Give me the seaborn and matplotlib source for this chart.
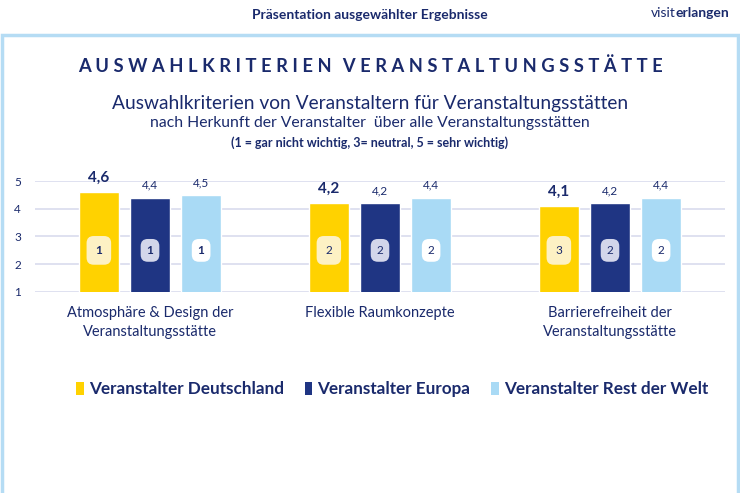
import matplotlib
matplotlib.use("Agg")
import matplotlib.pyplot as plt
import seaborn as sns
import pandas as pd
from matplotlib.patches import Rectangle, Patch

categories = ["Atmosphäre & Design der\nVeranstaltungsstätte",
              "Flexible Raumkonzepte",
              "Barrierefreiheit der\nVeranstaltungsstätte"]
series = ["Veranstalter Deutschland", "Veranstalter Europa", "Veranstalter Rest der Welt"]
values_de = [4.6, 4.2, 4.1]
values_eu = [4.4, 4.2, 4.2]
values_rw = [4.5, 4.4, 4.4]
ranks_de = [1, 2, 3]
ranks_eu = [1, 2, 2]
ranks_rw = [1, 2, 2]
yticks = [1, 2, 3, 4, 5]

colors = ["#FFD200", "#1F3583", "#A9DAF5"]
badge_colors = ["#FDF1C4", "#D3D6EA", "#FFFFFF"]
navy = "#1A2A6C"

rows = []
for s, vals, rks in zip(series, [values_de, values_eu, values_rw], [ranks_de, ranks_eu, ranks_rw]):
    for c, v, r in zip(categories, vals, rks):
        rows.append({"Kategorie": c, "Serie": s, "Wert": v, "Rang": r})
df = pd.DataFrame(rows)

sns.set_theme(style="white")
plt.rcParams['font.family'] = ['Lato', 'DejaVu Sans']

fig = plt.figure(figsize=(7.4, 4.93), dpi=100)
ax = fig.add_axes([35/740, 1-292/493, 690/740, 111/493])

sns.barplot(data=df, x="Kategorie", y="Wert", hue="Serie", order=categories,
            hue_order=series, palette=colors, width=0.667, gap=0.217,
            saturation=1, ax=ax, legend=False, zorder=3)

ax.set_ylim(1, 5)
ax.set_xlim(-0.5, 2.5)
ax.set_yticks(yticks)
ax.set_yticklabels([str(t) for t in yticks], color=navy, fontsize=8.5)
ax.grid(axis="y", color="#D9DCEE", linewidth=1.2, zorder=0)
ax.set_axisbelow(True)
for sp in ax.spines.values():
    sp.set_visible(False)
ax.tick_params(axis="y", length=0, pad=10)
ax.tick_params(axis="x", length=0, pad=10)
ax.set_xticks(range(len(categories)))
ax.set_xticklabels(categories, color=navy, fontsize=10.5, linespacing=1.5)
ax.set_xlabel("")
ax.set_ylabel("")

# annotate bars
for si, (cont, s) in enumerate(zip(ax.containers, series)):
    sub = df[df["Serie"] == s].set_index("Kategorie").loc[categories]
    for bar, v, r in zip(cont, sub["Wert"], sub["Rang"]):
        cx = bar.get_x() + bar.get_width() / 2
        lab = f"{v:.1f}".replace(".", ",")
        if si == 0:
            ax.annotate(lab, (cx, v), xytext=(0, 5), textcoords="offset points",
                        ha="center", va="bottom", fontsize=11, fontweight="bold",
                        color=navy, annotation_clip=False)
        else:
            ax.annotate(lab, (cx, v), xytext=(0, 5), textcoords="offset points",
                        ha="center", va="bottom", fontsize=8.5,
                        color=navy, annotation_clip=False)
        pad = 0.75 if si == 0 else 0.5
        ax.text(cx, 2.5, str(r), ha="center", va="center", fontsize=8.5,
                fontweight="bold" if r == 1 else "normal",
                color=navy, zorder=5,
                bbox=dict(boxstyle=f"round,pad={pad},rounding_size=0.6",
                          fc=badge_colors[si], ec="none"))

# titles
ts = "\u2009"
title = "AUSWAHLKRITERIEN VERANSTALTUNGSSTÄTTE"
spaced = (ts * 2).join(title).replace(ts * 2 + " " + ts * 2, ts * 5)
fig.text(0.5, 1-66/493, spaced,
         ha="center", va="center", fontsize=13.2, fontweight="bold", color=navy)
fig.text(0.5, 1-103/493, "Auswahlkriterien von Veranstaltern für Veranstaltungsstätten",
         ha="center", va="center", fontsize=13.8, color=navy)
fig.text(0.5, 1-123/493, "nach Herkunft der Veranstalter  über alle Veranstaltungsstätten",
         ha="center", va="center", fontsize=11.3, color=navy)
fig.text(0.5, 1-143/493, "(1 = gar nicht wichtig, 3= neutral, 5 = sehr wichtig)",
         ha="center", va="center", fontsize=9, fontweight="bold", color=navy)
fig.text(0.5, 1-15/493, "Präsentation ausgewählter Ergebnisse",
         ha="center", va="center", fontsize=10, fontweight="bold", color=navy)
fig.text(676/740, 1-13/493, "visit", ha="right", va="center", fontsize=10, color=navy)
fig.text(676/740, 1-13/493, "erlangen", ha="left", va="center", fontsize=10,
         fontweight="bold", color=navy)

# frame
fig.add_artist(Rectangle((1.5/740, -0.05), 736/740, 1.05 - 35/493, fill=False,
                         ec="#B5DCF4", lw=2.5, transform=fig.transFigure))

handles = [Patch(facecolor=c, edgecolor="none") for c in colors]
leg = fig.legend(handles, series, loc="center", bbox_to_anchor=(0.53, 1-389/493),
                 ncol=3, frameon=False, handlelength=0.45, handleheight=0.8,
                 handletextpad=0.3, columnspacing=1.2,
                 prop={"weight": "bold", "size": 12.3})
for t in leg.get_texts():
    t.set_color(navy)

fig.savefig("out.png", dpi=100)
